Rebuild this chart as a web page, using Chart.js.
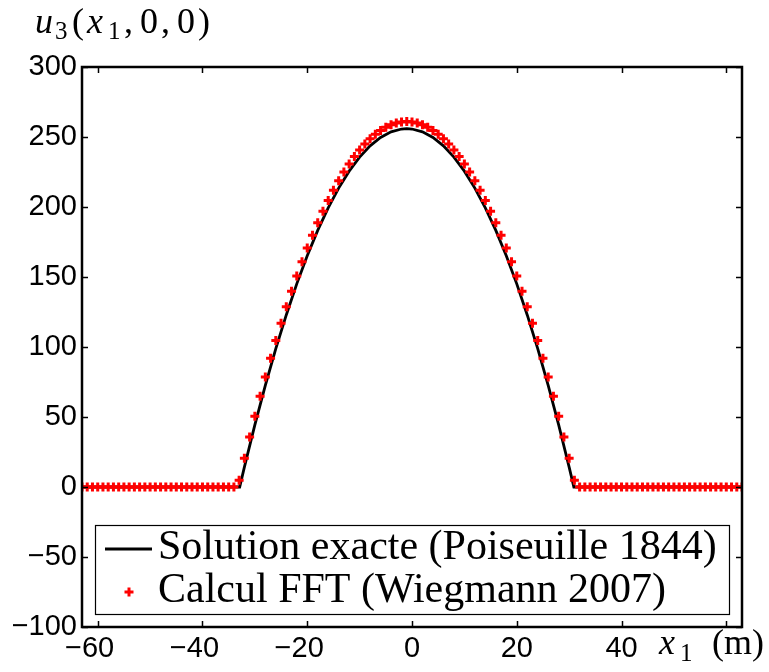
<!DOCTYPE html>
<html>
<head>
<meta charset="utf-8">
<script src="https://cdn.jsdelivr.net/npm/chart.js@4/dist/chart.umd.min.js"></script>
<style>
  body { margin: 0; background: #fff; }
  #chart { display: block; }
</style>
</head>
<body>
<canvas id="chart" width="769" height="672"></canvas>
<script>
// exact solution (Poiseuille)
var exactX = [-63, -32.9, -32, -30, -28, -26, -24, -22, -20, -18, -16, -14, -12, -10, -8, -6, -4, -2, -1,
              0, 2, 4, 6, 8, 10, 12, 14, 16, 18, 20, 22, 24, 26, 28, 30, 30.9, 63];
var exactY = [0, 0, 14.2, 44.4, 72.6, 98.8, 122.9, 145.1, 165.2, 183.3, 199.4, 213.5, 225.6, 235.6, 243.7, 249.7, 253.7, 255.7, 256,
              255.7, 253.7, 249.7, 243.7, 235.6, 225.6, 213.5, 199.4, 183.3, 165.2, 145.1, 122.9, 98.8, 72.6, 44.4, 14.2, 0, 0];

// FFT computation (Wiegmann), red + markers
var fftX = [-63, -62, -61, -60, -59, -58, -57, -56, -55, -54, -53, -52, -51, -50, -49, -48, -47, -46, -45, -44,
            -43, -42, -41, -40, -39, -38, -37, -36, -35, -34, -33, -32, -31, -30, -29, -28, -27, -26, -25, -24,
            -23, -22, -21, -20, -19, -18, -17, -16, -15, -14, -13, -12, -11, -10, -9, -8, -7, -6, -5, -4,
            -3, -2, -1, 0, 1, 2, 3, 4, 5, 6, 7, 8, 9, 10, 11, 12, 13, 14, 15, 16,
            17, 18, 19, 20, 21, 22, 23, 24, 25, 26, 27, 28, 29, 30, 31, 32, 33, 34, 35, 36,
            37, 38, 39, 40, 41, 42, 43, 44, 45, 46, 47, 48, 49, 50, 51, 52, 53, 54, 55, 56,
            57, 58, 59, 60, 61, 62, 63];
var fftY = [0, 0, 0, 0, 0, 0, 0, 0, 0, 0, 0, 0, 0, 0, 0, 0, 0, 0, 0, 0,
            0, 0, 0, 0, 0, 0, 0, 0, 0, 0, 4.8, 20.6, 35.8, 50.6, 64.9, 78.6, 91.9, 104.6, 116.9, 128.7,
            139.9, 150.7, 160.9, 170.7, 179.9, 188.7, 197.0, 204.7, 212.0, 218.7, 225.0, 230.7, 236.0, 240.7, 245.0, 248.7, 252.0, 254.7, 257.0, 258.7,
            260.0, 260.7, 261.0, 260.7, 260.0, 258.7, 257.0, 254.7, 252.0, 248.7, 245.0, 240.7, 236.0, 230.7, 225.0, 218.7, 212.0, 204.7, 197.0, 188.7,
            179.9, 170.7, 160.9, 150.7, 139.9, 128.7, 116.9, 104.6, 91.9, 78.6, 64.9, 50.6, 35.8, 20.6, 4.8, 0, 0, 0, 0, 0,
            0, 0, 0, 0, 0, 0, 0, 0, 0, 0, 0, 0, 0, 0, 0, 0, 0, 0, 0, 0,
            0, 0, 0, 0, 0, 0, 0];

var xMin = -63, xMax = 63, xStep = 20;
var yMin = -100, yMax = 300, yStep = 50;

var seriesNames = ['Solution exacte (Poiseuille 1844)', 'Calcul FFT (Wiegmann 2007)'];

function pts(xs, ys) {
    var out = [];
    for (var i = 0; i < xs.length; i++) out.push({x: xs[i], y: ys[i]});
    return out;
}

function line(ctx, x1, y1, x2, y2) {
    ctx.beginPath();
    ctx.moveTo(x1, y1);
    ctx.lineTo(x2, y2);
    ctx.stroke();
}

// box, inward ticks on all four sides, legend and the two LaTeX-ish labels
var frame = {
    id: 'frame',
    afterDraw: function(chart) {
        var ctx = chart.ctx, a = chart.chartArea;
        var sx = chart.scales.x, sy = chart.scales.y;
        ctx.save();
        ctx.strokeStyle = '#000';
        ctx.lineWidth = 1.5;
        sx.ticks.forEach(function(t) {
            var px = Math.round(sx.getPixelForValue(t.value)) + 0.5;
            line(ctx, px, a.bottom, px, a.bottom - 6);
            line(ctx, px, a.top, px, a.top + 6);
        });
        sy.ticks.forEach(function(t) {
            var py = Math.round(sy.getPixelForValue(t.value)) + 0.5;
            line(ctx, a.left, py, a.left + 6, py);
            line(ctx, a.right, py, a.right - 6, py);
        });
        ctx.lineWidth = 2.5;
        ctx.strokeRect(a.left, a.top, a.right - a.left, a.bottom - a.top);

        // legend
        var d0 = chart.data.datasets[1], d1 = chart.data.datasets[0];
        ctx.fillStyle = '#fff';
        ctx.fillRect(95, 525, 634, 89);
        ctx.lineWidth = 1.2;
        ctx.strokeStyle = '#000';
        ctx.strokeRect(95.5, 525.5, 634, 89);
        ctx.strokeStyle = d0.borderColor;
        ctx.lineWidth = d0.borderWidth;
        line(ctx, 105, 549, 152, 549);
        ctx.strokeStyle = d1.borderColor;
        ctx.lineWidth = d1.pointBorderWidth;
        line(ctx, 124.5, 592, 133.5, 592);
        line(ctx, 129, 587.5, 129, 596.5);
        ctx.fillStyle = '#000';
        ctx.textBaseline = 'alphabetic';
        ctx.textAlign = 'left';
        ctx.font = '42px "Liberation Serif", "Times New Roman", serif';
        ctx.fillText(d0.label, 158, 559);
        ctx.fillText(d1.label, 158, 602);

        // y label: u_3(x_1, 0, 0)
        var it = 'italic 36px "Liberation Serif", serif';
        var up = '36px "Liberation Serif", serif';
        var sub = '25px "Liberation Serif", serif';
        ctx.font = it; ctx.fillText('u', 35, 33);
        ctx.font = sub; ctx.fillText('3', 55, 39);
        ctx.font = up; ctx.fillText('(', 72, 33);
        ctx.font = it; ctx.fillText('x', 87, 33);
        ctx.font = sub; ctx.fillText('1', 108, 39);
        ctx.font = up;
        ctx.fillText(',', 124, 33);
        ctx.fillText('0', 140, 33);
        ctx.fillText(',', 161, 33);
        ctx.fillText('0', 177, 33);
        ctx.fillText(')', 198, 33);

        // x label: x_1 (m)
        ctx.font = it; ctx.fillText('x', 659, 654);
        ctx.font = sub; ctx.fillText('1', 680, 661);
        ctx.font = up; ctx.fillText('(m)', 712, 654);
        ctx.restore();
    }
};

var tickFont = {family: '"Liberation Sans", Arial, sans-serif', size: 29};

var chart = new Chart(document.getElementById('chart').getContext('2d'), {
    type: 'scatter',
    data: {
        datasets: [{
            label: seriesNames[1],
            data: pts(fftX, fftY),
            showLine: false,
            pointStyle: 'cross',
            pointRadius: 4.5,
            pointBorderWidth: 3,
            borderColor: '#ff0000',
            backgroundColor: '#ff0000',
            order: 0
        }, {
            label: seriesNames[0],
            data: pts(exactX, exactY),
            showLine: true,
            pointRadius: 0,
            borderColor: '#000000',
            borderWidth: 2.8,
            tension: 0,
            order: 1
        }]
    },
    options: {
        responsive: false,
        animation: false,
        events: [],
        layout: {padding: {left: 0, top: 67, right: 27, bottom: 0}},
        plugins: {legend: {display: false}, tooltip: {enabled: false}},
        scales: {
            x: {
                type: 'linear',
                min: xMin,
                max: xMax,
                grid: {display: false, drawTicks: false},
                border: {display: false},
                afterFit: function(s) { s.height = 45; },
                ticks: {
                    stepSize: xStep,
                    includeBounds: false,
                    autoSkip: false,
                    maxRotation: 0,
                    padding: 5,
                    color: '#000',
                    font: tickFont,
                    callback: function(v) {
                        if (v === 60) return '';
                        return v < 0 ? '\u2212' + (-v) + '\u2007' : String(v);
                    }
                }
            },
            y: {
                min: yMin,
                max: yMax,
                grid: {display: false, drawTicks: false},
                border: {display: false},
                afterFit: function(s) { s.width = 82; },
                ticks: {
                    stepSize: yStep,
                    padding: 5,
                    color: '#000',
                    font: tickFont,
                    callback: function(v) {
                        return v < 0 ? '\u2212' + (-v) : String(v);
                    }
                }
            }
        }
    },
    plugins: [frame]
});
</script>
</body>
</html>
